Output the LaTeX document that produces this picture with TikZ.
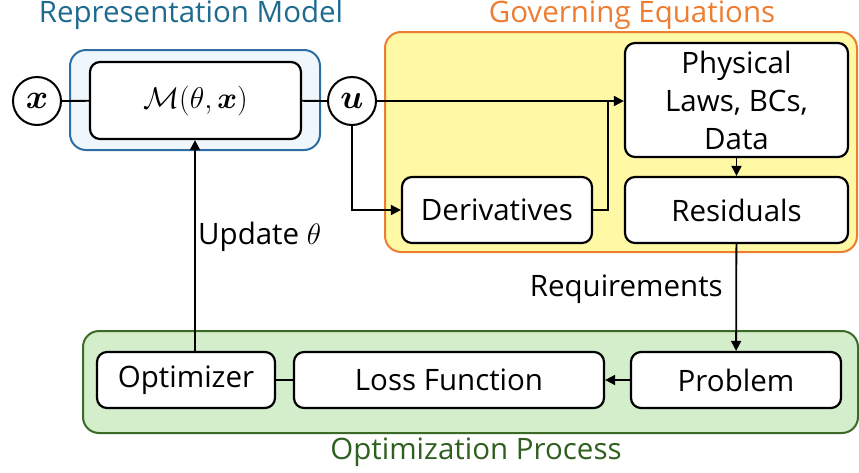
\RequirePackage{fix-cm}
\documentclass[tikz,border=0pt]{standalone}
\usepackage{amsmath,bm}
\usepackage{fontspec}
\setmainfont{Open Sans}
\usetikzlibrary{arrows.meta}
\definecolor{repblue}{HTML}{1F6B8F}
\definecolor{repedge}{HTML}{2E6CA4}
\definecolor{repfill}{HTML}{EFF7FD}
\definecolor{govorange}{HTML}{ED7D31}
\definecolor{govfill}{HTML}{FFF9A5}
\definecolor{optgreen}{HTML}{2F6020}
\definecolor{optedge}{HTML}{3B6B27}
\definecolor{optfill}{HTML}{D4EDCB}
\begin{document}
\begin{tikzpicture}[x=1pt,y=-1pt,
  group/.style={rounded corners=16pt,line width=2pt,inner sep=0pt},
  box/.style={draw=black,line width=2.2pt,fill=white,rounded corners=10pt,
    align=center,inner sep=0pt,font=\fontsize{29.5}{38}\selectfont},
  circ/.style={circle,draw=black,line width=2pt,fill=white,minimum size=48pt,
    inner sep=0pt,font=\fontsize{34}{36}\selectfont},
  title/.style={font=\fontsize{29.5}{32}\selectfont,inner sep=0pt},
  lbl/.style={font=\fontsize{29.5}{32}\selectfont,inner sep=0pt},
  wire/.style={line width=1.8pt},
  arr/.style={wire,-{Triangle[length=10pt,width=10pt]}}]
\useasboundingbox (0,0) rectangle (859,472);

% group panels
\node[group,draw=repedge,fill=repfill,minimum width=250pt,minimum height=100pt] (rep) at (195,100) {};
\node[group,draw=govorange,fill=govfill,minimum width=472pt,minimum height=220pt] (gov) at (621,142) {};
\node[group,draw=optedge,fill=optfill,minimum width=775pt,minimum height=102pt] (opt) at (470.5,382) {};

% panel titles
\node[title,text=repblue] (reptitle) at (191,15) {Representation Model};
\node[title,text=govorange] (govtitle) at (632,15) {Governing Equations};
\node[title,text=optgreen] (opttitle) at (476,452) {Optimization Process};

% representation model
\node[circ] (x) at (37,101) {$\bm{x}$};
\node[box,minimum width=211pt,minimum height=77pt,font=\fontsize{30}{32}\selectfont] (M) at (195.5,100.5) {$\mathcal{M}(\theta,\bm{x})$};
\node[circ] (u) at (352,101) {$\bm{u}$};

% governing equations
\node[box,minimum width=223pt,minimum height=114pt] (phys) at (736.5,100) {Physical\\Laws, BCs,\\Data};
\node[box,minimum width=223pt,minimum height=66pt] (res) at (736.5,210) {Residuals};
\node[box,minimum width=190pt,minimum height=66pt] (der) at (497,210) {Derivatives};
\coordinate (join) at (608,100);

% optimization process
\node[box,minimum width=178pt,minimum height=56pt] (optim) at (186,380) {Optimizer};
\node[box,minimum width=310pt,minimum height=56pt] (loss) at (449,380) {Loss Function};
\node[box,minimum width=210pt,minimum height=56pt] (prob) at (736,380) {Problem};

% connectors
\draw[wire] (x) -- (M);
\draw[wire] (M) -- (u);
\draw[arr] (u) -- (phys.west |- u);
\draw[arr] (u) |- (der);
\draw[wire] (der) -| (join);
\draw[arr] (phys) -- (res);
\draw[arr] (res) -- (prob);
\draw[arr] (prob) -- (loss);
\draw[wire] (loss) -- (optim);
\draw[arr] (optim.north -| 195,0) -- (M.south -| 195,0);

% edge labels
\node[lbl,anchor=west] (upd) at (198,237) {Update $\theta$};
\node[lbl,anchor=east] (req) at (723,289) {Requirements};
\end{tikzpicture}
\end{document}
